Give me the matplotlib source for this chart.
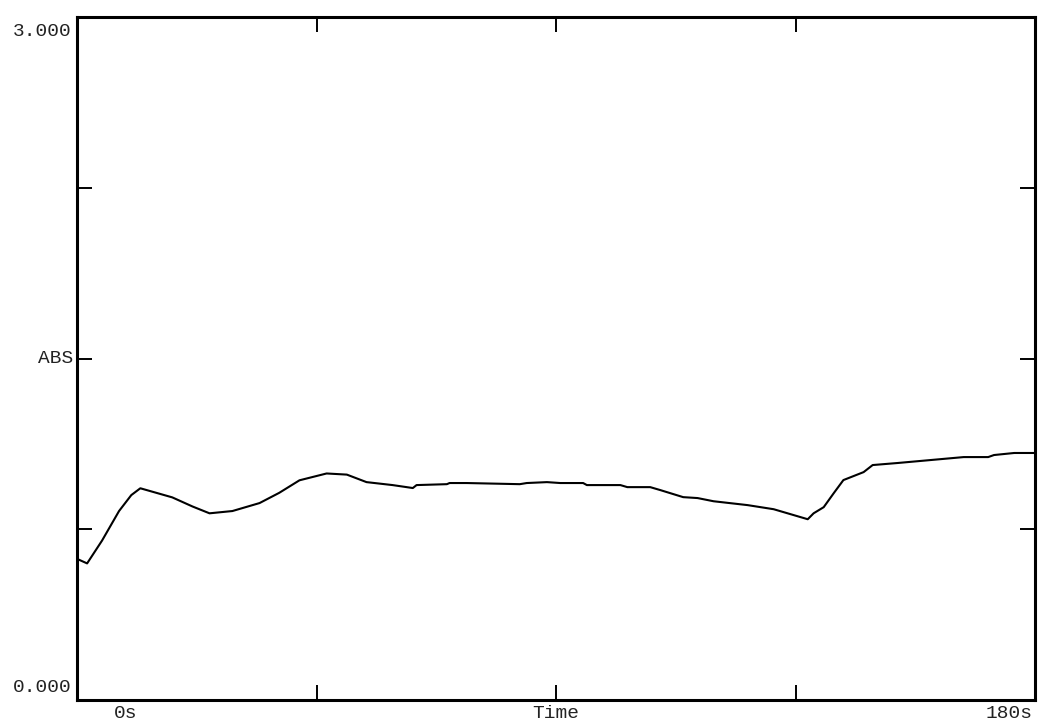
import matplotlib
matplotlib.use("Agg")
import matplotlib.pyplot as plt

# absorbance trace
time_s = [0, 1.9, 4.7, 7.9, 10.2, 11.9, 14.9, 17.9, 21.7, 24.9, 29.2, 34.3, 38.0,
          41.8, 46.9, 50.7, 54.4, 59.3, 63.1, 63.8, 69.5, 70.0, 73.2, 83.2, 84.5,
          88.3, 90.8, 95.1, 95.8, 102.1, 103.4, 107.7, 109.6, 113.9, 116.6, 119.6,
          126.0, 130.9, 134.1, 137.3, 138.4, 140.3, 142.2, 144.0, 147.8, 149.5,
          154.2, 160.4, 166.6, 171.2, 172.3, 176.1, 180.0]
absorb = [0.62, 0.60, 0.70, 0.83, 0.90, 0.93, 0.91, 0.89, 0.85, 0.82, 0.83, 0.865,
          0.91, 0.965, 0.995, 0.99, 0.957, 0.944, 0.931, 0.944, 0.948, 0.953, 0.953,
          0.948, 0.953, 0.957, 0.953, 0.953, 0.944, 0.944, 0.935, 0.935, 0.922,
          0.891, 0.887, 0.873, 0.856, 0.838, 0.816, 0.794, 0.820, 0.847, 0.909,
          0.966, 1.001, 1.032, 1.041, 1.054, 1.067, 1.067, 1.076, 1.085, 1.085]

x_ticks = [45, 90, 135]
y_ticks = [0.75, 1.5, 2.25]

W, H = 1038, 724
fig = plt.figure(figsize=(W / 100, H / 100), dpi=100)
ax = fig.add_axes([77 / W, 24 / H, (1035 - 77) / W, (700 - 17) / H])

ax.plot(time_s, absorb, color="black", lw=1.5)
ax.set_xlim(0, 180)
ax.set_ylim(0, 3)

for s in ax.spines.values():
    s.set_linewidth(2.2)
ax.set_xticks(x_ticks)
ax.set_yticks(y_ticks)
ax.tick_params(direction="in", length=11, width=1.4, top=True, right=True,
               labelbottom=False, labelleft=False)

font = dict(family=["Liberation Mono", "DejaVu Sans Mono"], size=14, color="#222222")
px = 0.72  # points per pixel

def label(x, y, s, dx, dy, ha, va="center"):
    ax.annotate(s, xy=(x, y), xycoords="data", xytext=(dx * px, dy * px),
                textcoords="offset points", ha=ha, va=va, annotation_clip=False, **font)

label(0, 3.0, "3.000", -5, -15, "right")
label(0, 0.0, "0.000", -5, 12, "right")
label(0, 1.5, "ABS", -4, 0, "right")
label(0, 0, "0s", 49, -13, "center")
label(90, 0, "Time", 0, -13, "center")
label(180, 0, "180s", -2, -13, "right")

fig.savefig("out.png", dpi=100)
